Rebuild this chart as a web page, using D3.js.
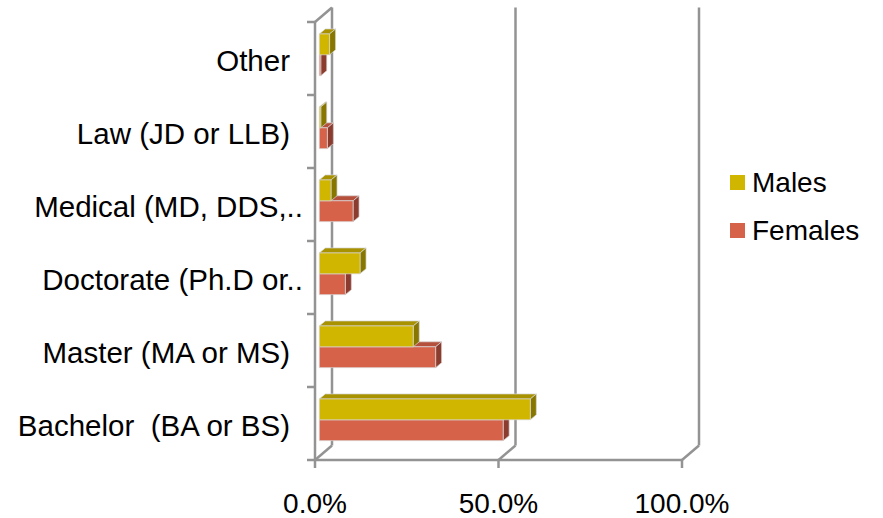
<!DOCTYPE html>
<html>
<head>
<meta charset="utf-8">
<script src="https://cdn.jsdelivr.net/npm/d3@7/dist/d3.min.js"></script>
<style>
  html, body { margin: 0; padding: 0; background: #fff; }
  svg { display: block; font-family: "Liberation Sans", Arial, sans-serif; }
</style>
</head>
<body>
<svg id="chart" width="883" height="518"></svg>
<script>
// Highest degree held, share of respondents by sex (%)
const categories = ["Bachelor  (BA or BS)", "Master (MA or MS)", "Doctorate (Ph.D or..", "Medical (MD, DDS,..", "Law (JD or LLB)", "Other"];
const males   = [57.5, 25.6, 11.1, 3.2, 0.4, 2.8];
const females = [50.1, 31.7, 7.1, 9.2, 2.2, 0.4];
const seriesNames = ["Males", "Females"];
const tickValues = [0, 50, 100];
const tickLabels = ["0.0%", "50.0%", "100.0%"];

const palette = {
  Males:   { front: "#d1b600", top: "#a89200", side: "#877600" },
  Females: { front: "#d6624a", top: "#b4503c", side: "#8c3c2e" }
};

const svg = d3.select("#chart");

// Front plane of the 3-D box
const x = d3.scaleLinear().domain([0, 100]).range([315, 682]);
const y = d3.scaleBand().domain(categories.slice().reverse()).range([22, 460]).padding(0);

// Depth of the box and of the bars (screen offsets)
const depth = { dx: 17, dy: -14.5 };
const barFront = { dx: 4.3, dy: -3.7 };
const barDepth = { dx: 6, dy: -5 };

const gridColor = "#939393";
const gridWidth = 2.5;

const walls = svg.append("g").attr("fill", "none").attr("stroke", gridColor).attr("stroke-width", gridWidth);

// Back wall gridlines and floor diagonals
tickValues.forEach(v => {
  const fx = x(v), fy = y.range()[1];
  walls.append("line")
    .attr("x1", fx + depth.dx).attr("y1", y.range()[0] + depth.dy)
    .attr("x2", fx + depth.dx).attr("y2", fy + depth.dy);
  walls.append("line")
    .attr("x1", fx).attr("y1", fy)
    .attr("x2", fx + depth.dx).attr("y2", fy + depth.dy);
});

// Left wall: front edge and top diagonal
walls.append("line")
  .attr("x1", x(0)).attr("y1", y.range()[0])
  .attr("x2", x(0)).attr("y2", y.range()[1]);
walls.append("line")
  .attr("x1", x(0)).attr("y1", y.range()[0])
  .attr("x2", x(0) + depth.dx).attr("y2", y.range()[0] + depth.dy);
// Floor front edge
walls.append("line")
  .attr("x1", x(0)).attr("y1", y.range()[1])
  .attr("x2", x(100)).attr("y2", y.range()[1]);

// Category tick marks on the left wall
const bounds = y.domain().map(c => y(c)).concat([y.range()[1]]);
bounds.forEach(b => {
  walls.append("line")
    .attr("x1", x(0) - 8).attr("y1", b)
    .attr("x2", x(0)).attr("y2", b);
});
// Value tick marks under the floor
tickValues.forEach(v => {
  walls.append("line")
    .attr("x1", x(v)).attr("y1", y.range()[1])
    .attr("x2", x(v)).attr("y2", y.range()[1] + 8);
});

// Bars: two per category (Males above Females)
const barH = y.bandwidth() / 3.5;
const groupOffset = (y.bandwidth() - 2 * barH) / 2;

const bars = [];
categories.forEach((c, i) => {
  bars.push({ cat: c, series: "Females", value: females[i], slot: 1 });
  bars.push({ cat: c, series: "Males", value: males[i], slot: 0 });
});

const barLayer = svg.append("g");
const pts = p => p.map(d => d.join(",")).join(" ");

bars.forEach(b => {
  const x0 = x(0) + barFront.dx;
  const x1 = x(b.value) + barFront.dx;
  const y0 = y(b.cat) + groupOffset + b.slot * barH + barFront.dy;
  const y1 = y0 + barH;
  const c = palette[b.series];
  const g = barLayer.append("g").attr("stroke", "#d8d8d8").attr("stroke-width", 0.7).attr("stroke-linejoin", "round");
  // top face
  g.append("polygon").attr("fill", c.top).attr("points", pts([
    [x0, y0], [x1, y0], [x1 + barDepth.dx, y0 + barDepth.dy], [x0 + barDepth.dx, y0 + barDepth.dy]
  ]));
  // right side face
  g.append("polygon").attr("fill", c.side).attr("points", pts([
    [x1, y0], [x1 + barDepth.dx, y0 + barDepth.dy], [x1 + barDepth.dx, y1 + barDepth.dy], [x1, y1]
  ]));
  // front face
  g.append("rect").attr("fill", c.front)
    .attr("x", x0).attr("y", y0)
    .attr("width", Math.max(0, x1 - x0)).attr("height", barH);
});

// Category labels (truncated labels let their dots run past the margin)
svg.append("g").selectAll("text").data(categories).join("text")
  .attr("x", d => d.endsWith("..") ? 303 : 290)
  .attr("y", d => y(d) + y.bandwidth() / 2 + 12)
  .attr("text-anchor", "end")
  .style("white-space", "pre")
  .attr("font-size", 29.5)
  .attr("fill", "#000")
  .text(d => d);

// Value axis labels
svg.append("g").selectAll("text").data(tickValues).join("text")
  .attr("x", d => x(d))
  .attr("y", 513)
  .attr("text-anchor", "middle")
  .attr("font-size", 28)
  .attr("fill", "#000")
  .text((d, i) => tickLabels[i]);

// Legend
const legend = svg.append("g");
seriesNames.forEach((s, i) => {
  const ly = 175 + i * 48;
  legend.append("rect")
    .attr("x", 730).attr("y", ly).attr("width", 15).attr("height", 15)
    .attr("fill", palette[s].front);
  legend.append("text")
    .attr("x", 752).attr("y", ly + 17)
    .attr("font-size", 28)
    .attr("fill", "#000")
    .text(s);
});
</script>
</body>
</html>
